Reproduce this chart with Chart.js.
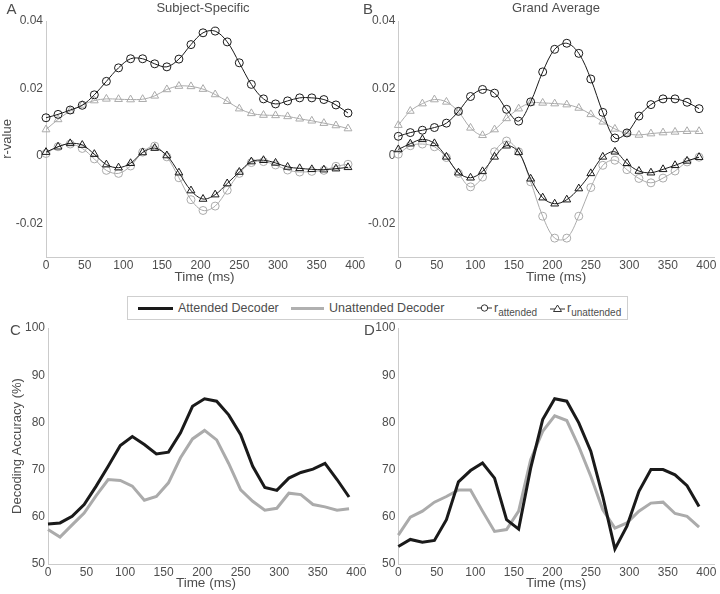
<!DOCTYPE html>
<html>
<head>
<meta charset="utf-8">
<script src="https://cdn.jsdelivr.net/npm/chart.js@4.4.1/dist/chart.umd.min.js"></script>
<style>
body { margin: 0; background: #fff; font-family: "Liberation Sans", Arial, sans-serif; color: #4d4d4d; }
#wrap { position: relative; width: 720px; height: 594px; overflow: hidden; }
#wrap canvas { position: absolute; left: 0; top: 0; }
#legend { position: absolute; left: 127px; top: 296px; width: 499px; height: 22px; border: 1px solid #cfcfcf; background: #fff; z-index: 5; font-size: 12.5px; }
#legend .it { position: absolute; top: 0; height: 22px; line-height: 22px; white-space: nowrap; }
#legend .ln { position: absolute; top: 10px; height: 3px; }
#legend sub { font-size: 10px; vertical-align: -4px; line-height: 0; }
#legend svg { position: absolute; top: 5px; }
</style>
</head>
<body>
<div id="wrap">
  <canvas id="chartA" width="720" height="594"></canvas>
  <canvas id="chartB" width="720" height="594"></canvas>
  <canvas id="chartC" width="720" height="594"></canvas>
  <canvas id="chartD" width="720" height="594"></canvas>
  <div id="legend">
    <div class="ln" style="left:10px;width:35px;background:#1a1a1a"></div>
    <div class="it" style="left:50px">Attended Decoder</div>
    <div class="ln" style="left:163px;width:33px;background:#b0b0b0"></div>
    <div class="it" style="left:201px">Unattended Decoder</div>
    <svg style="left:349px" width="15" height="12"><line x1="0" y1="6" x2="15" y2="6" stroke="#333" stroke-width="1"/><circle cx="7.5" cy="6" r="3.2" fill="#fff" stroke="#333" stroke-width="1"/></svg>
    <div class="it" style="left:366px">r<sub>attended</sub></div>
    <svg style="left:422px" width="15" height="12"><line x1="0" y1="7" x2="15" y2="7" stroke="#333" stroke-width="1"/><polygon points="7.5,3 11.5,9.5 3.5,9.5" fill="#fff" stroke="#333" stroke-width="1"/></svg>
    <div class="it" style="left:439px">r<sub>unattended</sub></div>
  </div>
</div>
<script>
// time axis (ms), one point every 15.625 ms
const timeMs = [0, 15.6, 31.3, 46.9, 62.5, 78.1, 93.8, 109.4, 125, 140.6, 156.3, 171.9, 187.5,
    203.1, 218.8, 234.4, 250, 265.6, 281.3, 296.9, 312.5, 328.1, 343.8, 359.4, 375, 390.6]
const timeTicks = [0, 50, 100, 150, 200, 250, 300, 350, 400]
const rTicks = [-0.02, 0, 0.02, 0.04]
const accTicks = [50, 60, 70, 80, 90, 100]

// A - subject-specific
const aAttDecAtt = [0.0113, 0.0123, 0.0136, 0.0150, 0.0181, 0.0221, 0.0261, 0.0288, 0.0288, 0.0273, 0.0264, 0.0287, 0.0330,
    0.0365, 0.0370, 0.0338, 0.0276, 0.0212, 0.0169, 0.0154, 0.0163, 0.0172, 0.0172, 0.0167, 0.0151, 0.0127]
const aAttDecUnatt = [0.0011, 0.0027, 0.0037, 0.0032, 0.0005, -0.0026, -0.0035, -0.0022, 0.0010, 0.0023, 0.0001, -0.0050, -0.0103,
    -0.0128, -0.0115, -0.0082, -0.0048, -0.0017, -0.0013, -0.0021, -0.0033, -0.0037, -0.0040, -0.0041, -0.0038, -0.0034]
const aUnattDecAtt = [0.0007, 0.0027, 0.0035, 0.0022, -0.0009, -0.0043, -0.0052, -0.0030, 0.0011, 0.0029, -0.0003, -0.0065, -0.0130,
    -0.0162, -0.0149, -0.0102, -0.0052, -0.0020, -0.0017, -0.0027, -0.0042, -0.0048, -0.0046, -0.0043, -0.0031, -0.0025]
const aUnattDecUnatt = [0.0078, 0.0108, 0.0133, 0.0151, 0.0164, 0.0169, 0.0168, 0.0167, 0.0168, 0.0178, 0.0197, 0.0207, 0.0206,
    0.0198, 0.0182, 0.0162, 0.0140, 0.0126, 0.0121, 0.0120, 0.0117, 0.0110, 0.0104, 0.0097, 0.0090, 0.0081]

// B - grand average
const bAttDecAtt = [0.0058, 0.0069, 0.0076, 0.0084, 0.0097, 0.0132, 0.0176, 0.0197, 0.0186, 0.0138, 0.0103, 0.0160, 0.0249,
    0.0316, 0.0334, 0.0304, 0.0228, 0.0129, 0.0053, 0.0068, 0.0118, 0.0152, 0.0169, 0.0169, 0.0159, 0.0140]
const bAttDecUnatt = [0.0019, 0.0036, 0.0049, 0.0037, -0.0003, -0.0050, -0.0065, -0.0046, -0.0003, 0.0030, 0.0011, -0.0068, -0.0124,
    -0.0142, -0.0130, -0.0097, -0.0052, -0.0003, 0.0012, -0.0022, -0.0045, -0.0050, -0.0040, -0.0028, -0.0015, -0.0004]
const bUnattDecAtt = [0.0005, 0.0030, 0.0035, 0.0027, -0.0005, -0.0052, -0.0092, -0.0063, 0.0012, 0.0044, 0.0012, -0.0077, -0.0179,
    -0.0244, -0.0244, -0.0179, -0.0094, -0.0028, -0.0013, -0.0041, -0.0067, -0.0080, -0.0066, -0.0045, -0.0018, -0.0004]
const bUnattDecUnatt = [0.0091, 0.0133, 0.0155, 0.0167, 0.0160, 0.0131, 0.0083, 0.0061, 0.0078, 0.0111, 0.0140, 0.0157, 0.0157,
    0.0155, 0.0152, 0.0142, 0.0123, 0.0101, 0.0080, 0.0066, 0.0062, 0.0066, 0.0069, 0.0071, 0.0073, 0.0073]

// C / D - decoding accuracy (%)
const cAttended = [58.5, 58.7, 60.1, 62.6, 66.5, 70.7, 75.1, 77.0, 75.3, 73.3, 73.7, 77.8, 83.4,
    85.0, 84.5, 81.6, 77.4, 70.7, 66.2, 65.6, 68.2, 69.4, 70.1, 71.3, 67.9, 64.2]
const cUnattended = [57.3, 55.7, 58.3, 60.8, 64.5, 67.9, 67.7, 66.5, 63.5, 64.3, 67.2, 72.5, 76.5,
    78.3, 76.3, 71.3, 65.7, 63.3, 61.4, 61.8, 65.0, 64.7, 62.6, 62.1, 61.4, 61.7]
const dAttended = [53.7, 55.2, 54.6, 55.0, 59.4, 67.4, 69.8, 71.4, 68.2, 59.4, 57.4, 70.3, 80.6,
    85.0, 84.5, 79.9, 73.9, 64.3, 53.2, 58.0, 65.4, 70.0, 70.0, 68.9, 66.6, 62.2]
const dUnattended = [56.1, 59.9, 61.2, 63.1, 64.3, 65.7, 65.7, 61.2, 56.9, 57.3, 61.2, 72.1, 78.1,
    81.4, 80.4, 74.9, 68.6, 61.5, 57.6, 58.7, 61.2, 62.9, 63.1, 60.7, 60.1, 57.8]

const BLACK = '#1a1a1a'
const GREY = '#ababab'
const AXIS = '#cbcbcb'
const TEXT = '#4d4d4d'

Chart.defaults.font.family = '"Liberation Sans", Arial, sans-serif'
Chart.defaults.color = TEXT

function pts(ys) {
    return ys.map((y, i) => ({ x: timeMs[i], y: y }))
}

function rSeries(ys, color, style) {
    return {
        data: pts(ys),
        borderColor: color,
        borderWidth: 1,
        tension: 0.35,
        pointStyle: style,
        pointRadius: style === 'triangle' ? 4.5 : 4,
        pointBorderWidth: 1,
        pointBorderColor: color,
        pointBackgroundColor: 'rgba(0,0,0,0)',
        clip: false
    }
}

function accSeries(ys, color) {
    return {
        data: pts(ys),
        borderColor: color,
        borderWidth: 3,
        tension: 0,
        pointRadius: 0,
        clip: false
    }
}

// panel letter + title, drawn on the canvas
const panelText = {
    id: 'panelText',
    afterDraw(chart, args, opts) {
        const ctx = chart.ctx
        ctx.save()
        ctx.fillStyle = TEXT
        ctx.textBaseline = 'middle'
        ctx.textAlign = 'center'
        ctx.font = '15px "Liberation Sans", Arial, sans-serif'
        ctx.fillText(opts.letter, opts.lx, opts.ly)
        if (opts.title) {
            ctx.font = '13px "Liberation Sans", Arial, sans-serif'
            ctx.fillText(opts.title, opts.tx, opts.ty)
        }
        ctx.restore()
    }
}

function makePanel(id, p) {
    new Chart(document.getElementById(id), {
        type: 'line',
        data: { datasets: p.datasets },
        plugins: [panelText],
        options: {
            responsive: false,
            animation: false,
            events: [],
            layout: { autoPadding: false, padding: p.pad },
            plugins: {
                legend: { display: false },
                tooltip: { enabled: false },
                panelText: p.text
            },
            scales: {
                x: {
                    type: 'linear',
                    min: 0,
                    max: 410,
                    grid: { display: false, drawTicks: false },
                    border: { display: true, color: AXIS, width: 1 },
                    ticks: { padding: 1.5, font: { size: 12 }, maxRotation: 0 },
                    afterBuildTicks: s => { s.ticks = timeTicks.map(v => ({ value: v })) },
                    afterFit: s => { s.height = p.xH },
                    title: { display: true, text: 'Time (ms)', font: { size: 13.5 }, padding: { top: 0, bottom: p.xTitlePad } }
                },
                y: {
                    min: p.yMin,
                    max: p.yMax,
                    grid: { display: false, drawTicks: false },
                    border: { display: true, color: AXIS, width: 1 },
                    ticks: {
                        padding: 3,
                        font: { size: 12 },
                        callback: v => p.fmt(v)
                    },
                    afterBuildTicks: s => { s.ticks = p.yTicks.map(v => ({ value: v })) },
                    afterFit: s => { s.width = p.yW },
                    title: { display: !!p.yTitle, text: p.yTitle, font: { size: 13 }, padding: { top: p.yTitlePad, bottom: 0 } }
                }
            }
        }
    })
}

const fmtR = v => v === 0 ? '0' : v.toFixed(2)
const fmtAcc = v => String(v)

makePanel('chartA', {
    datasets: [
        rSeries(aAttDecAtt, BLACK, 'circle'),
        rSeries(aAttDecUnatt, BLACK, 'triangle'),
        rSeries(aUnattDecAtt, GREY, 'circle'),
        rSeries(aUnattDecUnatt, GREY, 'triangle')
    ],
    pad: { left: 0, top: 21, right: 357, bottom: 304 },
    xH: 33, yW: 46, xTitlePad: 4.2, yTitle: 'r-value', yTitlePad: 0,
    yMin: -0.03, yMax: 0.04, yTicks: rTicks, fmt: fmtR,
    text: { letter: 'A', lx: 11.5, ly: 10, title: 'Subject-Specific', tx: 203, ty: 8.5 }
})

makePanel('chartB', {
    datasets: [
        rSeries(bAttDecAtt, BLACK, 'circle'),
        rSeries(bAttDecUnatt, BLACK, 'triangle'),
        rSeries(bUnattDecAtt, GREY, 'circle'),
        rSeries(bUnattDecUnatt, GREY, 'triangle')
    ],
    pad: { left: 360, top: 21, right: 6, bottom: 304 },
    xH: 33, yW: 38.3, xTitlePad: 4.2, yTitle: '', yTitlePad: 0,
    yMin: -0.03, yMax: 0.04, yTicks: rTicks, fmt: fmtR,
    text: { letter: 'B', lx: 368, ly: 10, title: 'Grand Average', tx: 556, ty: 8.5 }
})

makePanel('chartC', {
    datasets: [
        accSeries(cAttended, BLACK),
        accSeries(cUnattended, GREY)
    ],
    pad: { left: 0, top: 328, right: 356, bottom: 0 },
    xH: 30, yW: 48, xTitlePad: 2.6, yTitle: 'Decoding Accuracy (%)', yTitlePad: 9.2,
    yMin: 50, yMax: 100, yTicks: accTicks, fmt: fmtAcc,
    text: { letter: 'C', lx: 15.5, ly: 331 }
})

makePanel('chartD', {
    datasets: [
        accSeries(dAttended, BLACK),
        accSeries(dUnattended, GREY)
    ],
    pad: { left: 360, top: 328, right: 6, bottom: 0 },
    xH: 30, yW: 38.3, xTitlePad: 2.6, yTitle: '', yTitlePad: 0,
    yMin: 50, yMax: 100, yTicks: accTicks, fmt: fmtAcc,
    text: { letter: 'D', lx: 369.5, ly: 331 }
})
</script>
</body>
</html>
